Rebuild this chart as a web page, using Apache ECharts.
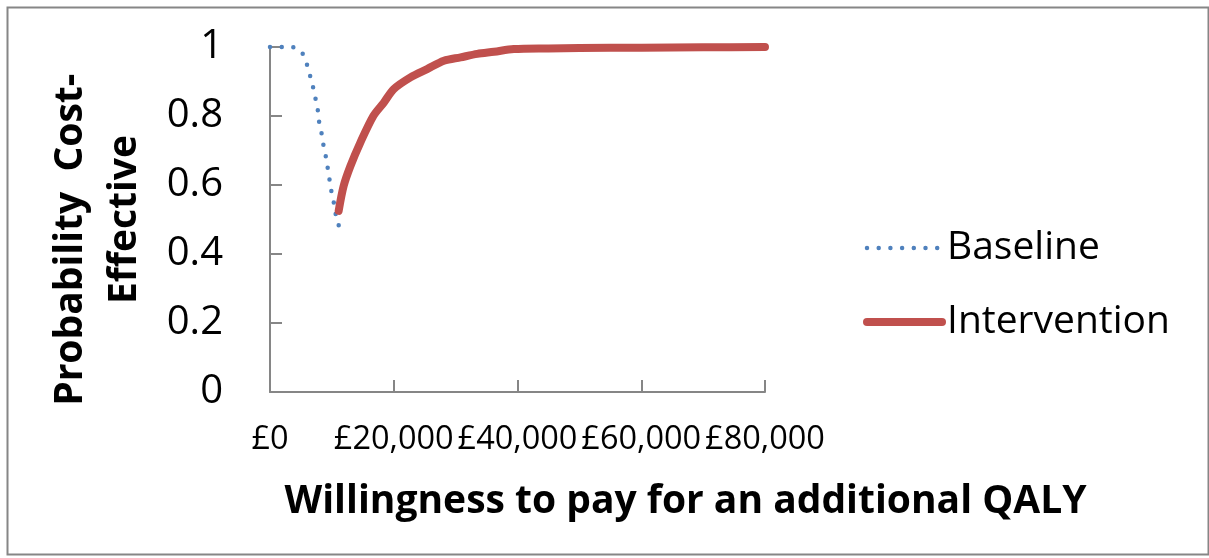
<!DOCTYPE html>
<html>
<head>
<meta charset="utf-8">
<script src="https://cdn.jsdelivr.net/npm/echarts@6/dist/echarts.min.js"></script>
<style>html,body{margin:0;padding:0;background:#fff;}#c{width:1209px;height:558px;}</style>
</head>
<body>
<div id="c"></div>
<script>
const baselineX = [0, 1000, 2000, 3000, 3500, 5100, 5900, 6400, 6900, 7300, 7700, 7900, 8300, 8600, 9000, 9300, 9600, 9900, 10300, 10600, 11100];
const baselineY = [1, 1, 1, 1, 1.0, 0.985, 0.953, 0.922, 0.888, 0.855, 0.820, 0.787, 0.753, 0.719, 0.684, 0.652, 0.618, 0.584, 0.550, 0.517, 0.483];
const interventionX = [11100, 11900, 13000, 14600, 16700, 18400, 20000, 22700, 25400, 28100, 30800, 33500, 36200, 39400, 45000, 50000, 60000, 70000, 80000];
const interventionY = [0.525, 0.597, 0.655, 0.723, 0.800, 0.839, 0.878, 0.912, 0.936, 0.960, 0.970, 0.980, 0.986, 0.994, 0.996, 0.997, 0.998, 0.999, 1.0];
const xTicks = [0, 20000, 40000, 60000, 80000];
const yTicks = [0, 0.2, 0.4, 0.6, 0.8, 1];
const seriesNames = ['Baseline', 'Intervention'];
const xTitle = 'Willingness to pay for an additional QALY';
const yTitle = 'Probability  Cost-    \nEffective';

const pairs = (xs, ys) => xs.map((x, i) => [x, ys[i]]);
const axisGray = '#868686';
const blue = '#4F81BD';
const red = '#C0504D';
const chart = echarts.init(document.getElementById('c'), null, {renderer: 'canvas'});
chart.setOption({
  animation: false,
  backgroundColor: '#ffffff',
  graphic: [{
    type: 'rect', left: 5, top: 5, silent: true,
    shape: {width: 1201, height: 547},
    style: {fill: 'none', stroke: axisGray, lineWidth: 2}
  }],
  grid: {left: 270, top: 47, width: 495, height: 345, containLabel: false},
  legend: {
    orient: 'vertical', left: 863, top: 226, padding: 0,
    itemWidth: 75, itemHeight: 14, itemGap: 30,
    itemStyle: {opacity: 0},
    data: [
      {name: seriesNames[0], lineStyle: {width: 4.5, color: blue, type: [0, 11.7], cap: 'round'}},
      {name: seriesNames[1], lineStyle: {width: 8, color: red, cap: 'round'}}
    ],
    textStyle: {fontFamily: 'Open Sans', fontSize: 39, color: '#000', lineHeight: 44}
  },
  xAxis: {
    type: 'value', min: xTicks[0], max: xTicks[xTicks.length - 1], interval: xTicks[1] - xTicks[0],
    splitLine: {show: false},
    axisLine: {show: true, lineStyle: {color: axisGray, width: 2}},
    axisTick: {show: true, inside: true, length: 12, lineStyle: {color: axisGray, width: 2}},
    axisLabel: {
      margin: 31, color: '#000', fontFamily: 'Open Sans', fontSize: 32.5,
      formatter: v => '£' + v.toLocaleString('en-GB')
    },
    name: xTitle, nameLocation: 'middle', nameGap: 90,
    nameTextStyle: {fontFamily: 'Open Sans', fontWeight: 'bold', fontSize: 39, color: '#000', padding: [0, 0, 0, 336]}
  },
  yAxis: {
    type: 'value', min: yTicks[0], max: yTicks[yTicks.length - 1], interval: yTicks[1] - yTicks[0],
    splitLine: {show: false},
    axisLine: {show: true, lineStyle: {color: axisGray, width: 2}},
    axisTick: {show: true, inside: true, length: 12, lineStyle: {color: axisGray, width: 2}},
    axisLabel: {margin: 47, color: '#000', fontFamily: 'Open Sans', fontSize: 40},
    name: yTitle, nameLocation: 'middle', nameRotate: 90, nameGap: 118,
    nameTextStyle: {fontFamily: 'Open Sans', fontWeight: 'bold', fontSize: 39, color: '#000', lineHeight: 54, align: 'center'}
  },
  series: [{
    name: seriesNames[0], type: 'line', data: pairs(baselineX, baselineY),
    showSymbol: false, symbol: 'none', clip: false, smooth: 0.3,
    itemStyle: {color: blue},
    lineStyle: {color: blue, width: 4.5, type: [0, 11.7], cap: 'round'}
  }, {
    name: seriesNames[1], type: 'line', data: pairs(interventionX, interventionY),
    showSymbol: false, symbol: 'none', clip: false, smooth: 0.3,
    itemStyle: {color: red},
    lineStyle: {color: red, width: 8, cap: 'round'}
  }]
});
</script>
</body>
</html>
